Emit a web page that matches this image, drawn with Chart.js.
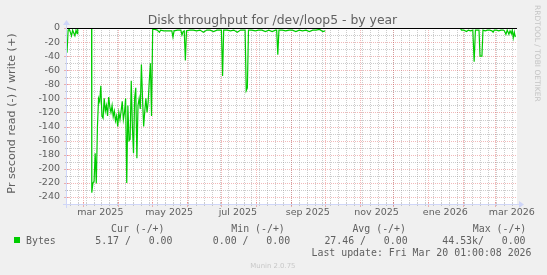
<!DOCTYPE html>
<html><head><meta charset="utf-8">
<script src="https://cdn.jsdelivr.net/npm/chart.js@4.4.1/dist/chart.umd.min.js"></script>
<style>html,body{margin:0;padding:0;background:#f0f0f0;overflow:hidden}canvas{display:block}</style>
</head><body>
<canvas id="c" width="547" height="275"></canvas>
<script>
// ---------------- data ----------------
const titleText = 'Disk throughput for /dev/loop5 - by year';
const yAxisTitle = 'Pr second read (-) / write (+)';
const seriesName = 'Bytes';
const xTickLabels = ['mar 2025', 'may 2025', 'jul 2025', 'sep 2025', 'nov 2025', 'ene 2026', 'mar 2026'];
const xTickMonths = [[2025, 2], [2025, 4], [2025, 6], [2025, 8], [2025, 10], [2026, 0], [2026, 2]];
const yTickValues = [0, -20, -40, -60, -80, -100, -120, -140, -160, -180, -200, -220, -240];
const yMinorValues = [-10, -30, -50, -70, -90, -110, -130, -150, -170, -190, -210, -230];
// days since graph start (graph spans ~399 days ending 20 Mar 2026)
const sampleDays = [
  0, 1, 2, 3, 4, 5, 6, 7, 8, 9, 9.5,
  15,
  21.8, 22, 23, 24, 25, 26, 27, 28, 29, 30, 31, 32, 33, 34, 35, 36, 37, 38, 39, 40,
  41, 42, 43, 44, 45, 46, 47, 48, 49, 50, 51, 52, 53, 54, 55, 56, 57, 58, 59, 60,
  61, 62, 63, 64, 65, 66, 67, 68, 69, 70, 71, 72, 73, 74, 75, 76,
  78, 80, 82, 83, 86, 89, 92, 93, 94, 95, 98, 101, 102, 103, 104, 105, 106, 109, 112, 115,
  118, 121, 124, 127, 130, 133, 136, 137, 138, 139, 142, 145, 148, 151, 154, 157, 158, 159, 160, 161,
  164, 167, 170, 173, 176, 179, 182, 185, 186, 187, 188, 191, 194, 197, 200, 203, 206, 209, 212, 215,
  218, 221, 224, 227, 229,
  240,
  349.2, 350, 352, 354.5, 356, 358, 360, 361.2, 362.3, 364, 365.5, 366.4, 368.1, 369, 371, 373, 375, 377, 378, 379,
  381, 383, 385, 387, 388, 389.4, 390.5, 392, 393, 394.2, 395, 395.9, 396.8, 397.7
];
const readRate = [
  -35, -3, -2, -6, -11, -3, -7, -11, -3, -8, -1,
  null,
  0, -234, -220, -218, -178, -221, -140, -100, -105, -82, -125, -128, -100, -118, -110, -125, -98, -112, -120, -110,
  -126, -118, -132, -125, -140, -120, -130, -118, -104, -130, -120, -100, -220, -110, -160, -158, -75, -140, -178, -100,
  -85, -185, -110, -100, -115, -52, -100, -140, -118, -100, -120, -105, -75, -50, -125, -2,
  -2, -3, -6, -3, -4, -4, -4, -4, -13, -4, -3, -3, -10, -5, -4, -46, -4, -3, -3, -4,
  -3, -6, -3, -3, -5, -3, -3, -3, -68, -3, -3, -4, -3, -6, -3, -3, -3, -89, -85, -3,
  -3, -4, -3, -3, -5, -3, -5, -3, -3, -38, -3, -3, -4, -3, -3, -5, -3, -4, -3, -5,
  -3, -3, -2, -5, -4,
  null,
  -1, -3, -3, -5, -3, -4, -3, -48, -3, -3, -3, -40, -40, -3, -4, -3, -3, -4, -6, -3,
  -3, -4, -3, -3, -4, -9, -3, -9, -4, -8, -3, -14, -6, -13
];
const legendHeader = ['Cur (-/+)', 'Min (-/+)', 'Avg (-/+)', 'Max (-/+)'];
const legendValues = ['5.17 /   0.00', '0.00 /   0.00', '27.46 /   0.00', '44.53k/   0.00'];
const lastUpdate = 'Last update: Fri Mar 20 01:00:08 2026';
const versionText = 'Munin 2.0.75';
const watermark = 'RRDTOOL / TOBI OETIKER';

// ---------------- layout / style ----------------
const GRAPH_START = Date.UTC(2025, 1, 14, 9, 36);
const X_MAX = 399.2;
const DAY = 86400000;
const toDay = t => (t - GRAPH_START) / DAY;
const FONT_COLOR = '#606060';
const MINOR = 'rgba(143,143,143,0.45)';
const MAJOR = 'rgba(222,79,79,0.4)';
const AXIS = '#cfd6f8';
const GREEN = '#00cc00';

const monthDays = [];
for (let y = 2025, m = 1; y < 2026 || m <= 3; ) {
  monthDays.push(toDay(Date.UTC(y, m, 1)));
  m++; if (m > 11) { m = 0; y++; }
}
const weekDays = [];
for (let t = Date.UTC(2025, 1, 17); toDay(t) < X_MAX; t += 7 * DAY) weekDays.push(toDay(t));
const labelDays = xTickMonths.map(([y, m]) => toDay(Date.UTC(y, m, 1)) + 15);

const points = sampleDays.map((d, i) => ({ x: d, y: readRate[i] }));

function hl(ctx, x1, x2, y) { ctx.beginPath(); ctx.moveTo(x1, y); ctx.lineTo(x2, y); ctx.stroke(); }
function vl(ctx, x, y1, y2) { ctx.beginPath(); ctx.moveTo(x, y1); ctx.lineTo(x, y2); ctx.stroke(); }

const rrdPlugin = {
  id: 'rrd',
  beforeDraw(chart) {
    const { ctx, chartArea: a } = chart;
    ctx.save();
    ctx.fillStyle = '#f0f0f0'; ctx.fillRect(0, 0, chart.width, chart.height);
    ctx.fillStyle = '#ffffff'; ctx.fillRect(a.left, a.top, a.right - a.left, a.bottom - a.top);
    ctx.restore();
  },
  beforeDatasetsDraw(chart) {
    const { ctx, chartArea: a, scales: { x: xs, y: ys } } = chart;
    const L = a.left, R = a.right, T = a.top, B = a.bottom;
    const px = v => Math.round(xs.getPixelForValue(v)) + 0.5;
    const py = v => Math.round(ys.getPixelForValue(v)) + 0.5;
    ctx.save();
    ctx.lineWidth = 1;
    ctx.setLineDash([1, 1]);
    ctx.strokeStyle = MINOR;
    weekDays.forEach(d => { const x = px(d); if (x > L && x < R) vl(ctx, x, T, B); });
    yMinorValues.forEach(v => { const y = py(v); if (y > T && y < B) hl(ctx, L, R, y); });
    ctx.strokeStyle = MAJOR;
    monthDays.forEach(d => { const x = px(d); if (x > L && x < R) vl(ctx, x, T, B); });
    yTickValues.forEach(v => { const y = py(v); if (y > T && y < B) hl(ctx, L, R, y); });
    ctx.setLineDash([]);
    // tick marks
    ctx.strokeStyle = MINOR;
    weekDays.forEach(d => { const x = px(d); if (x > L && x < R) vl(ctx, x, B - 1, B + 2); });
    yMinorValues.forEach(v => { const y = py(v); hl(ctx, L - 2, L + 1, y); });
    ctx.strokeStyle = MAJOR;
    monthDays.forEach(d => { const x = px(d); if (x > L && x < R) vl(ctx, x, B - 2, B + 3); });
    yTickValues.forEach(v => { const y = py(v); hl(ctx, L - 3, L + 2, y); });
    // axes
    ctx.strokeStyle = AXIS;
    hl(ctx, L - 4, R + 3, B + 0.5);
    vl(ctx, L - 0.5, B + 4, T - 4);
    ctx.fillStyle = AXIS;
    ctx.beginPath(); ctx.moveTo(R + 2, B - 3); ctx.lineTo(R + 2, B + 4); ctx.lineTo(R + 7, B + 0.5); ctx.closePath(); ctx.fill();
    ctx.beginPath(); ctx.moveTo(L - 4, T - 3); ctx.lineTo(L + 3, T - 3); ctx.lineTo(L - 0.5, T - 8); ctx.closePath(); ctx.fill();
    ctx.restore();
  },
  afterDatasetsDraw(chart) {
    const { ctx, chartArea: a, scales: { y: ys } } = chart;
    ctx.save();
    ctx.strokeStyle = '#000000'; ctx.lineWidth = 1;
    hl(ctx, a.left, a.right, Math.round(ys.getPixelForValue(0)) + 0.5);
    ctx.restore();
  },
  afterDraw(chart) {
    const ctx = chart.ctx;
    ctx.save();
    ctx.fillStyle = FONT_COLOR;
    ctx.textBaseline = 'alphabetic';
    // title
    ctx.font = '12.4px "DejaVu Sans"';
    ctx.textAlign = 'center';
    ctx.fillText(titleText, 272.5, 23.5);
    // y axis title
    ctx.save();
    ctx.font = '11.2px "DejaVu Sans"';
    ctx.translate(15, 113.5); ctx.rotate(-Math.PI / 2);
    ctx.fillText(yAxisTitle, 0, 0);
    ctx.restore();
    // watermark
    ctx.save();
    ctx.fillStyle = '#c4c4c4';
    ctx.font = '7.5px "DejaVu Sans"';
    ctx.translate(535, 53.4); ctx.rotate(Math.PI / 2);
    ctx.fillText(watermark, 0, 0);
    ctx.restore();
    // legend
    ctx.textAlign = 'left';
    ctx.font = '9.9px "DejaVu Sans Mono"';
    const hx = [111, 231.3, 352.4, 472.8];
    legendHeader.forEach((t, i) => ctx.fillText(t, hx[i], 231.5));
    ctx.fillStyle = GREEN;
    ctx.fillRect(14, 237, 6, 6);
    ctx.fillStyle = FONT_COLOR;
    ctx.fillText(seriesName, 26, 243.5);
    const vx = [95.2, 212.8, 324.4, 442.3];
    legendValues.forEach((t, i) => ctx.fillText(t, vx[i], 243.5));
    ctx.fillText(lastUpdate, 311.5, 256.4);
    // version
    ctx.fillStyle = '#c8c8c8';
    ctx.font = '6.9px "DejaVu Sans"';
    ctx.textAlign = 'center';
    ctx.fillText(versionText, 272.9, 268);
    ctx.restore();
  }
};

const tickFont = { family: 'DejaVu Sans', size: 9.5 };
new Chart(document.getElementById('c'), {
  type: 'line',
  data: {
    datasets: [{
      label: seriesName,
      data: points,
      borderColor: GREEN,
      borderWidth: 1.2,
      pointRadius: 0,
      fill: false,
      tension: 0,
      spanGaps: false
    }]
  },
  options: {
    responsive: false,
    animation: false,
    devicePixelRatio: 1,
    layout: { padding: { top: 28, right: 30, left: 0, bottom: 0 } },
    plugins: { legend: { display: false }, tooltip: { enabled: false }, title: { display: false } },
    scales: {
      x: {
        type: 'linear', min: 0, max: X_MAX,
        grid: { display: false, drawTicks: false },
        border: { display: false },
        afterBuildTicks: s => { s.ticks = labelDays.map(v => ({ value: v })); },
        afterFit: s => { s.height = 71; },
        ticks: { autoSkip: false, maxRotation: 0, minRotation: 0, padding: 3, font: tickFont, color: FONT_COLOR,
                 callback: (v, i) => xTickLabels[i] }
      },
      y: {
        type: 'linear', min: -250, max: 0,
        grid: { display: false, drawTicks: false },
        border: { display: false },
        afterBuildTicks: s => { s.ticks = yTickValues.map(v => ({ value: v })); },
        afterFit: s => { s.width = 67; },
        ticks: { padding: 7, font: tickFont, color: FONT_COLOR, callback: v => String(v) }
      }
    }
  },
  plugins: [rrdPlugin]
});
</script>
</body></html>
